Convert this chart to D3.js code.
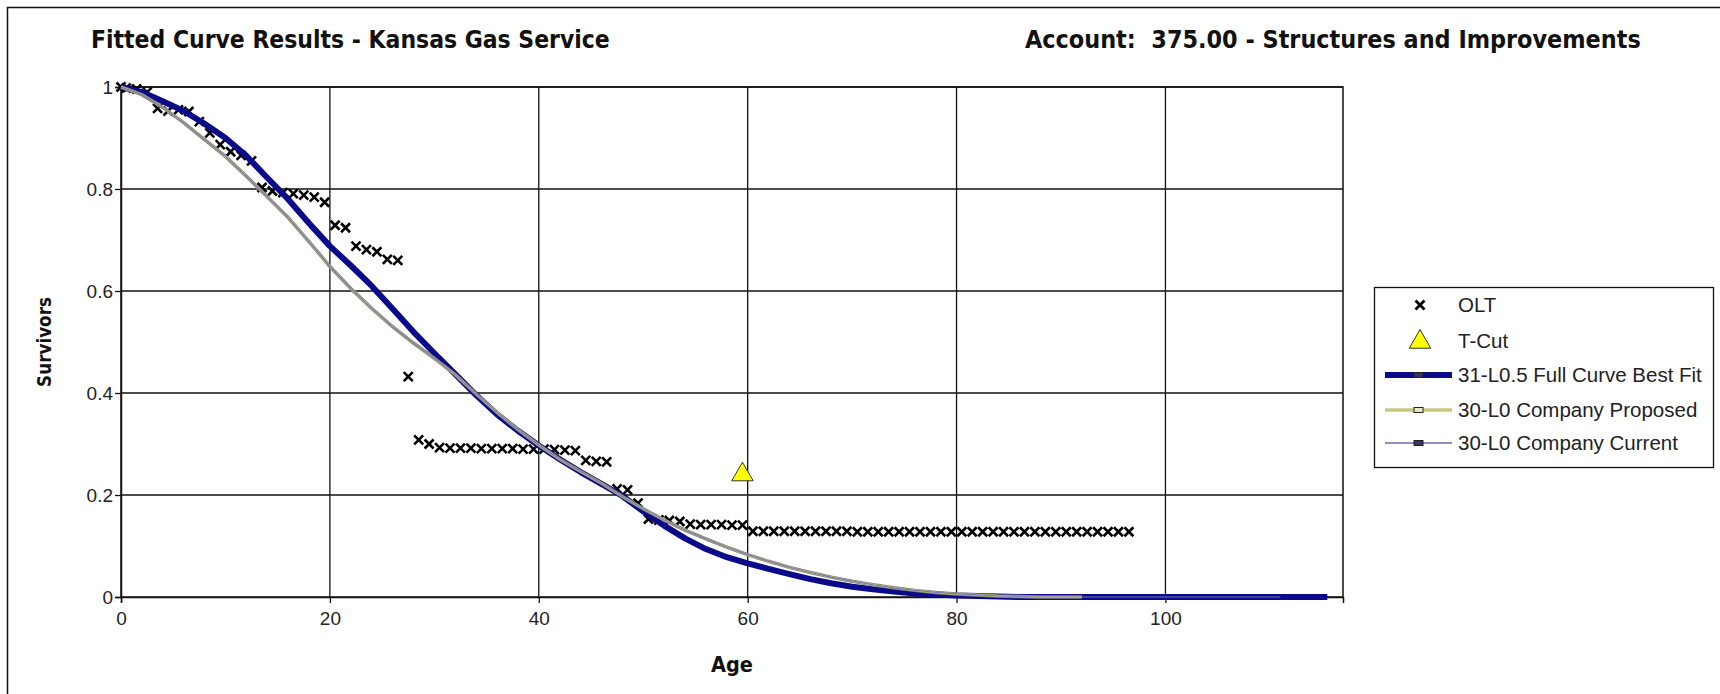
<!DOCTYPE html>
<html>
<head>
<meta charset="utf-8">
<script src="https://cdn.jsdelivr.net/npm/d3@7"></script>
<style>
  html, body { margin: 0; padding: 0; background: #fff; }
  svg { display: block; }
  .ttl { font-family: "DejaVu Sans", sans-serif; font-stretch: condensed; font-weight: bold; font-size: 21px; fill: #111; white-space: pre; }
  .axlab { font-family: "DejaVu Sans", sans-serif; font-stretch: condensed; font-weight: bold; font-size: 18px; fill: #111; }
  .tick text { font-family: "Liberation Sans", Arial, sans-serif; font-size: 19px; fill: #222; }
  .leg { font-family: "Liberation Sans", Arial, sans-serif; font-size: 20.5px; fill: #222; }
</style>
</head>
<body>
<div id="chart"></div>
<script>
// survivor data
const oltAge = [0, 0.5, 1.5, 2.5, 3.5, 4.5, 5.5, 6.5, 7.5, 8.5, 9.5, 10.5, 11.5, 12.5, 13.5, 14.5, 15.5, 16.5, 17.5, 18.5,
  19.5, 20.5, 21.5, 22.5, 23.5, 24.5, 25.5, 26.5, 27.5, 28.5, 29.5, 30.5, 31.5, 32.5, 33.5, 34.5, 35.5, 36.5, 37.5, 38.5,
  39.5, 40.5, 41.5, 42.5, 43.5, 44.5, 45.5, 46.5, 47.5, 48.5, 49.5, 50.5, 51.5, 52.5, 53.5, 54.5, 55.5, 56.5, 57.5, 58.5,
  59.5, 60.5, 61.5, 62.5, 63.5, 64.5, 65.5, 66.5, 67.5, 68.5, 69.5, 70.5, 71.5, 72.5, 73.5, 74.5, 75.5, 76.5, 77.5, 78.5,
  79.5, 80.5, 81.5, 82.5, 83.5, 84.5, 85.5, 86.5, 87.5, 88.5, 89.5, 90.5, 91.5, 92.5, 93.5, 94.5, 95.5, 96.5];
const oltVal = [1.000, 0.998, 0.996, 0.990, 0.958, 0.953, 0.955, 0.952, 0.932, 0.910, 0.887, 0.873, 0.866, 0.855, 0.803, 0.796, 0.793, 0.791, 0.788, 0.784,
  0.774, 0.729, 0.724, 0.688, 0.681, 0.677, 0.662, 0.660, 0.432, 0.308, 0.300, 0.293, 0.292, 0.292, 0.292, 0.291, 0.291, 0.291, 0.291, 0.290,
  0.290, 0.290, 0.289, 0.288, 0.287, 0.268, 0.266, 0.265, 0.212, 0.210, 0.184, 0.153, 0.151, 0.150, 0.148, 0.143, 0.142, 0.142, 0.142, 0.141,
  0.141, 0.129, 0.129, 0.129, 0.129, 0.129, 0.129, 0.129, 0.129, 0.129, 0.129, 0.128, 0.128, 0.128, 0.128, 0.128, 0.128, 0.128, 0.128, 0.128,
  0.128, 0.128, 0.128, 0.128, 0.128, 0.128, 0.128, 0.128, 0.128, 0.128, 0.128, 0.128, 0.128, 0.128, 0.128, 0.128, 0.128, 0.128];

const tcutAge = [59.5];
const tcutVal = [0.24];

const fitAge = [0, 2, 4, 6, 8, 10, 12, 14, 16, 18, 20, 22, 24, 26, 28, 30, 32, 34, 36, 38, 40, 42, 44, 46, 48, 50,
  52, 54, 56, 58, 60, 62, 64, 66, 68, 70, 72, 74, 76, 78, 80, 82, 84, 86, 90, 100, 110, 115.5];
const fitVal = [1.0, 0.99, 0.972, 0.953, 0.928, 0.9, 0.865, 0.822, 0.78, 0.733, 0.688, 0.65, 0.61, 0.565, 0.52, 0.478, 0.437, 0.396, 0.358, 0.326, 0.297, 0.27, 0.245, 0.222, 0.198, 0.168,
  0.14, 0.115, 0.094, 0.078, 0.066, 0.055, 0.045, 0.035, 0.027, 0.02, 0.015, 0.011, 0.007, 0.005, 0.003, 0.002, 0.001, 0, 0, 0, 0, 0];

const propAge = [0, 2, 4, 6, 8, 10, 12, 14, 16, 18, 20, 22, 24, 26, 28, 30, 32, 34, 36, 38, 40, 42, 44, 46, 48, 50,
  52, 54, 56, 58, 60, 62, 64, 66, 68, 70, 72, 74, 76, 78, 80, 82, 84, 86, 88, 92];
const propVal = [1.0, 0.985, 0.96, 0.93, 0.897, 0.864, 0.825, 0.785, 0.744, 0.697, 0.648, 0.605, 0.566, 0.53, 0.498, 0.468, 0.436, 0.398, 0.362, 0.328, 0.298, 0.27, 0.246, 0.223, 0.197, 0.173,
  0.151, 0.131, 0.114, 0.098, 0.083, 0.07, 0.058, 0.048, 0.039, 0.031, 0.024, 0.018, 0.013, 0.009, 0.006, 0.004, 0.002, 0.001, 0, 0];

const curAge = [0, 2, 4, 6, 8, 10, 12, 14, 16, 18, 20, 22, 24, 26, 28, 30, 32, 34, 36, 38, 40, 42, 44, 46, 48, 50,
  52, 54, 56, 58, 60, 62, 64, 66, 68, 70, 72, 74, 76, 78, 80, 82, 84, 86, 88, 92, 111];
const curVal = [1.0, 0.985, 0.96, 0.93, 0.897, 0.864, 0.825, 0.785, 0.744, 0.697, 0.648, 0.605, 0.566, 0.53, 0.498, 0.468, 0.436, 0.398, 0.362, 0.328, 0.298, 0.27, 0.246, 0.223, 0.197, 0.173,
  0.151, 0.131, 0.114, 0.098, 0.083, 0.07, 0.058, 0.048, 0.039, 0.031, 0.024, 0.018, 0.013, 0.009, 0.006, 0.004, 0.002, 0.001, 0, 0, 0];

const xTicks = [0, 20, 40, 60, 80, 100];
const yTicks = [0, 0.2, 0.4, 0.6, 0.8, 1];
const legendLabels = ['OLT', 'T-Cut', '31-L0.5 Full Curve Best Fit', '30-L0 Company Proposed', '30-L0 Company Current'];

const W = 1720, H = 694;
const plot = { left: 121, right: 1343, top: 87, bottom: 597 };

const svg = d3.select('#chart').append('svg')
  .attr('width', W).attr('height', H);

// outer frame
svg.append('rect')
  .attr('x', 7.5).attr('y', 7.5).attr('width', 1740).attr('height', 720)
  .attr('fill', '#fff').attr('stroke', '#111').attr('stroke-width', 1.5);

// fit a text element to a given width by adjusting its font size
function fitWidth(sel, target) {
  const fs = parseFloat(getComputedStyle(sel.node()).fontSize);
  const len = sel.node().getComputedTextLength();
  sel.style('font-size', (fs * target / len).toFixed(2) + 'px');
  return sel;
}

fitWidth(svg.append('text').attr('class', 'ttl')
  .attr('x', 91).attr('y', 48)
  .text('Fitted Curve Results - Kansas Gas Service'), 519);
fitWidth(svg.append('text').attr('class', 'ttl')
  .attr('x', 1025).attr('y', 48)
  .text('Account:  375.00 - Structures and Improvements'), 616);

const x = d3.scaleLinear().domain([0, 117]).range([plot.left, plot.right]);
const y = d3.scaleLinear().domain([0, 1]).range([plot.bottom, plot.top]);

// grid
const grid = svg.append('g');
grid.selectAll('.vg').data(xTicks.slice(1)).join('line')
  .attr('x1', d => x(d)).attr('x2', d => x(d))
  .attr('y1', plot.top).attr('y2', plot.bottom)
  .attr('stroke', '#111').attr('stroke-width', 1.3);
grid.selectAll('.hg').data(yTicks.slice(1)).join('line')
  .attr('x1', plot.left).attr('x2', plot.right)
  .attr('y1', d => y(d)).attr('y2', d => y(d))
  .attr('stroke', '#111').attr('stroke-width', 1.3);
svg.append('rect')
  .attr('x', plot.left).attr('y', plot.top)
  .attr('width', plot.right - plot.left).attr('height', plot.bottom - plot.top)
  .attr('fill', 'none').attr('stroke', '#111').attr('stroke-width', 1.5);

// axes
const xAxis = svg.append('g')
  .attr('transform', `translate(0,${plot.bottom})`)
  .call(d3.axisBottom(x).tickValues(xTicks).tickSize(6).tickPadding(9).tickFormat(d3.format('d')));
const yAxis = svg.append('g')
  .attr('transform', `translate(${plot.left},0)`)
  .call(d3.axisLeft(y).tickValues(yTicks).tickSize(6).tickPadding(2).tickFormat(d => d));
[xAxis, yAxis].forEach(a => {
  a.select('.domain').attr('stroke', '#111').attr('stroke-width', 1.5);
  a.selectAll('.tick line').attr('stroke', '#111').attr('stroke-width', 1.3);
});

fitWidth(svg.append('text').attr('class', 'axlab')
  .attr('text-anchor', 'middle')
  .attr('transform', 'translate(51,342) rotate(-90)')
  .text('Survivors'), 90);
fitWidth(svg.append('text').attr('class', 'axlab')
  .attr('text-anchor', 'middle')
  .attr('x', 732).attr('y', 672)
  .text('Age'), 42);

const xMark = 'M-4.5,-4.5L4.5,4.5M-4.5,4.5L4.5,-4.5';
const tri = d3.symbol().type(d3.symbolTriangle).size(200);

// OLT
svg.append('g').selectAll('path').data(oltAge.map((a, i) => [a, oltVal[i]])).join('path')
  .attr('d', xMark)
  .attr('transform', d => `translate(${x(d[0])},${y(d[1])})`)
  .attr('stroke', '#000').attr('stroke-width', 2.6).attr('fill', 'none');

// T-Cut
svg.append('g').selectAll('path').data(tcutAge.map((a, i) => [a, tcutVal[i]])).join('path')
  .attr('d', tri)
  .attr('transform', d => `translate(${x(d[0])},${y(d[1])})`)
  .attr('fill', '#ffff00').attr('stroke', '#333').attr('stroke-width', 1);

const line = d3.line().x(d => x(d[0])).y(d => y(d[1]));

// best fit
svg.append('path')
  .datum(fitAge.map((a, i) => [a, fitVal[i]]))
  .attr('d', line).attr('fill', 'none')
  .attr('stroke', '#0a0a8a').attr('stroke-width', 6).attr('stroke-linejoin', 'round');

// company proposed
const propPts = propAge.map((a, i) => [a, propVal[i]]);
svg.append('path').datum(propPts)
  .attr('d', line).attr('fill', 'none')
  .attr('stroke', '#8c8c78').attr('stroke-width', 3.5);
svg.append('path').datum(propPts)
  .attr('d', line).attr('fill', 'none')
  .attr('stroke', '#d9d98f').attr('stroke-width', 1.5);

// company current
svg.append('path')
  .datum(curAge.map((a, i) => [a, curVal[i]]))
  .attr('d', line).attr('fill', 'none')
  .attr('stroke', '#7a78a8').attr('stroke-width', 1.2);

// legend
const lg = svg.append('g');
lg.append('rect')
  .attr('x', 1374.5).attr('y', 287.5).attr('width', 339).attr('height', 180)
  .attr('fill', '#fff').attr('stroke', '#111').attr('stroke-width', 1.3);
const rowY = [305, 341, 375, 410, 443];
legendLabels.forEach((lab, i) => {
  const cy = rowY[i];
  lg.append('text').attr('class', 'leg')
    .attr('x', 1458).attr('y', cy + 7).text(lab);
  if (i === 0) {
    lg.append('path').attr('d', xMark)
      .attr('transform', `translate(1420,${cy})`)
      .attr('stroke', '#000').attr('stroke-width', 2.8).attr('fill', 'none');
  } else if (i === 1) {
    lg.append('path').attr('d', tri)
      .attr('transform', `translate(1420,${cy + 1})`)
      .attr('fill', '#ffff00').attr('stroke', '#333').attr('stroke-width', 1);
  } else {
    const st = [null, null,
      { c: '#0a0a8a', w: 6 }, { c: '#c8c880', w: 3.5 }, { c: '#6a68a8', w: 1.3 }][i];
    lg.append('line')
      .attr('x1', 1385).attr('x2', 1452).attr('y1', cy).attr('y2', cy)
      .attr('stroke', st.c).attr('stroke-width', st.w);
    lg.append('rect')
      .attr('x', 1414).attr('y', cy - 2.5).attr('width', 9).attr('height', 5)
      .attr('fill', i === 3 ? '#e8e8c0' : '#333366').attr('stroke', '#222').attr('stroke-width', 1);
  }
});
</script>
</body>
</html>
